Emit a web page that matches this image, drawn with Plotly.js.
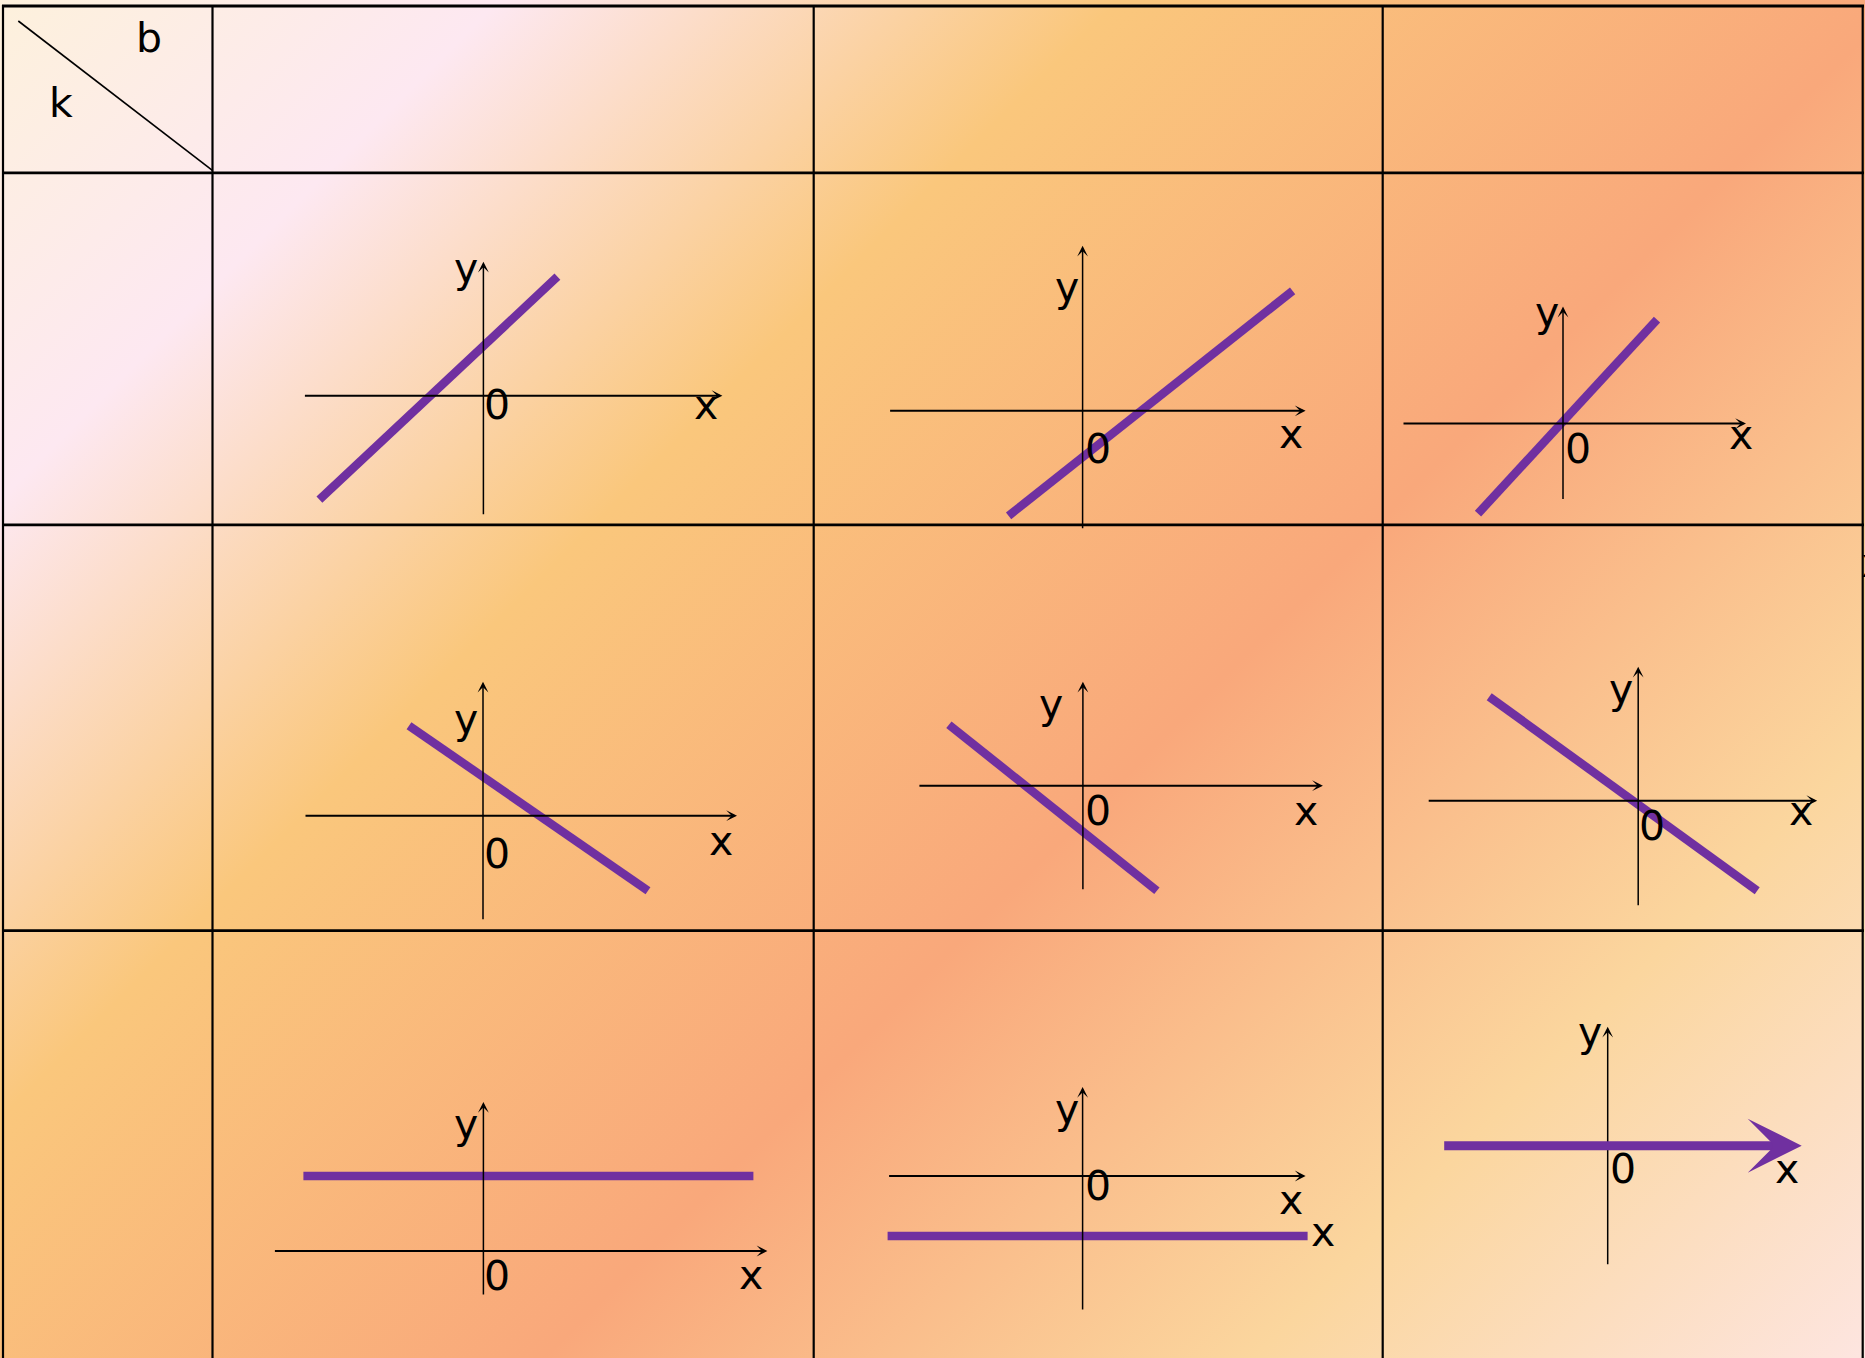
<!DOCTYPE html>
<html>
<head>
<meta charset="utf-8">
<script src="https://cdn.plot.ly/plotly-3.0.1.min.js"></script>
<style>
  html, body { margin: 0; padding: 0; }
  #chart {
    width: 1865px;
    height: 1358px;
    background: linear-gradient(135deg, #fdf1dc 0%, #fde8f1 15.5%, #fac77c 34.7%, #f9a87b 59%, #fbd69e 81%, #fde5e0 100%);
  }
</style>
</head>
<body>
<div id="chart"></div>
<script>
// one straight line y = kx + b per cell, rows k>0 / k<0 / k=0, columns b>0 / b<0 / b=0
// end points are in the cell's own units (origin where its axes cross, y up)
const cells  = ['k>0, b>0', 'k>0, b<0', 'k>0, b=0',
                'k<0, b>0', 'k<0, b<0', 'k<0, b=0',
                'k=0, b>0', 'k=0, b<0', 'k=0, b=0'];
const lineX0 = [-164, -74, -85, -74, -134, -149, -180, -195, -165];
const lineY0 = [-104, -105, -90, 90, 61, 104, 75, -60, 0];
const lineX1 = [74, 210, 94, 165, 74, 119, 270, 225, 194];
const lineY1 = [119, 120, 104, -75, -105, -90, 75, -60, 0];

const W = 1865, H = 1358;
const purple = '#7030a0';
const font = {family: 'DejaVu Sans, sans-serif', size: 41, color: '#000'};

// where each little coordinate system sits on the page (px) and how far its axes reach
const origins = [[483.4, 395.7], [1082.6, 410.8], [1563, 423.6],
                 [483, 815.7], [1082.9, 785.7], [1638.2, 800.7],
                 [483.4, 1251], [1082.6, 1176], [1607.7, 1145.7]];
const xReach = [[-180, 239], [-194, 223], [-161, 183],
                [-179, 254], [-165, 240], [-211, 179],
                [-210, 284], [-195, 223], null];
const yReach = [[-120, 134], [-119, 165], [-77, 117],
                [-105, 134], [-105, 104], [-106, 134],
                [-45, 149], [-135, 89], [-120, 119]];
const yLabelAt = [[-17, 120], [-16, 116], [-16, 104], [-17, 89], [-32, 74], [-17, 104], [-17, 119], [-16, 59], [-18, 106]];
const zeroAt   = [[14, -8], [15, -37], [15, -25], [14, -37], [15, -24], [14, -24], [14, -24], [15, -9], [15, -22]];
const xLabelAt = [[223, -12], [208, -26], [178, -14], [238, -28], [223, -28], [163, -13], [268, -27], [208, -27], [179, -26]];

const px = x => x / W;
const py = y => 1 - y / H;

function arrow(xa, ya, x0, y0, x1, y1, color, width, size) {
  return {xref: xa, yref: ya, axref: xa, ayref: ya, x: x1, y: y1, ax: x0, ay: y0,
          text: '', font: {size: 1}, showarrow: true, arrowhead: 3,
          arrowsize: size, arrowwidth: width, arrowcolor: color};
}
function label(xref, yref, x, y, text, shift) {
  return {xref: xref, yref: yref, x: x, y: y, text: text, showarrow: false,
          font: font, xanchor: 'center', yanchor: 'middle', yshift: shift};
}
function rule(x0, y0, x1, y1, w) {
  return {type: 'line', xref: 'paper', yref: 'paper', x0: px(x0), y0: py(y0), x1: px(x1), y1: py(y1),
          line: {color: '#000', width: w}};
}

const traces = [];
const layout = {
  width: W, height: H,
  margin: {l: 0, r: 0, t: 0, b: 0},
  paper_bgcolor: 'rgba(0,0,0,0)',
  plot_bgcolor: 'rgba(0,0,0,0)',
  showlegend: false,
  shapes: [],
  annotations: []
};

cells.forEach((name, i) => {
  const n = i === 0 ? '' : String(i + 1);
  const xa = 'x' + n, ya = 'y' + n;
  const ox = origins[i][0], oy = origins[i][1];
  layout['xaxis' + n] = {domain: [0, 1], range: [-ox, W - ox], visible: false, fixedrange: true, anchor: ya};
  layout['yaxis' + n] = {domain: [0, 1], range: [oy - H, oy], visible: false, fixedrange: true, anchor: xa};

  if (xReach[i]) {
    layout.annotations.push(arrow(xa, ya, xReach[i][0], 0, xReach[i][1], 0, '#000', 2, 0.9));
  }
  layout.annotations.push(arrow(xa, ya, 0, yReach[i][0], 0, yReach[i][1], '#000', 1.5, 1.2));

  if (i === 8) {
    // the line lying on the x axis is drawn as the axis arrow itself
    layout.annotations.push(arrow(xa, ya, lineX0[i], lineY0[i], lineX1[i], lineY1[i], purple, 9, 1.0));
  } else {
    traces.push({
      type: 'scatter', mode: 'lines', name: name,
      x: [lineX0[i], lineX1[i]], y: [lineY0[i], lineY1[i]],
      xaxis: xa, yaxis: ya,
      line: {color: purple, width: 8.5},
      hoverinfo: 'name'
    });
  }

  layout.annotations.push(label(xa, ya, yLabelAt[i][0], yLabelAt[i][1], 'y', 7.8));
  layout.annotations.push(label(xa, ya, zeroAt[i][0], zeroAt[i][1], '0', -0.8));
  layout.annotations.push(label(xa, ya, xLabelAt[i][0], xLabelAt[i][1], 'x', 3));
});

// second x in the k=0, b<0 cell, and a cut-off one at the right edge
layout.annotations.push(label('x8', 'y8', 240, -59, 'x', 3));
layout.annotations.push(label('paper', 'paper', px(1873), py(566), 'x', 3));

// table grid
[3, 212.5, 813.7, 1382.7, 1862.7].forEach(x => layout.shapes.push(rule(x, 5, x, H, 2.2)));
[6, 172.8, 524.8, 930.7].forEach(y => layout.shapes.push(rule(2, y, 1864, y, 2.8)));
// corner cell: diagonal with b and k
layout.shapes.push(rule(18.3, 21, 212.7, 170.7, 1.6));
layout.annotations.push(label('paper', 'paper', px(149), py(36.7), 'b', -1.4));
layout.annotations.push(label('paper', 'paper', px(61), py(101.7), 'k', -1.4));

Plotly.newPlot('chart', traces, layout, {displayModeBar: false, staticPlot: true});
</script>
</body>
</html>
